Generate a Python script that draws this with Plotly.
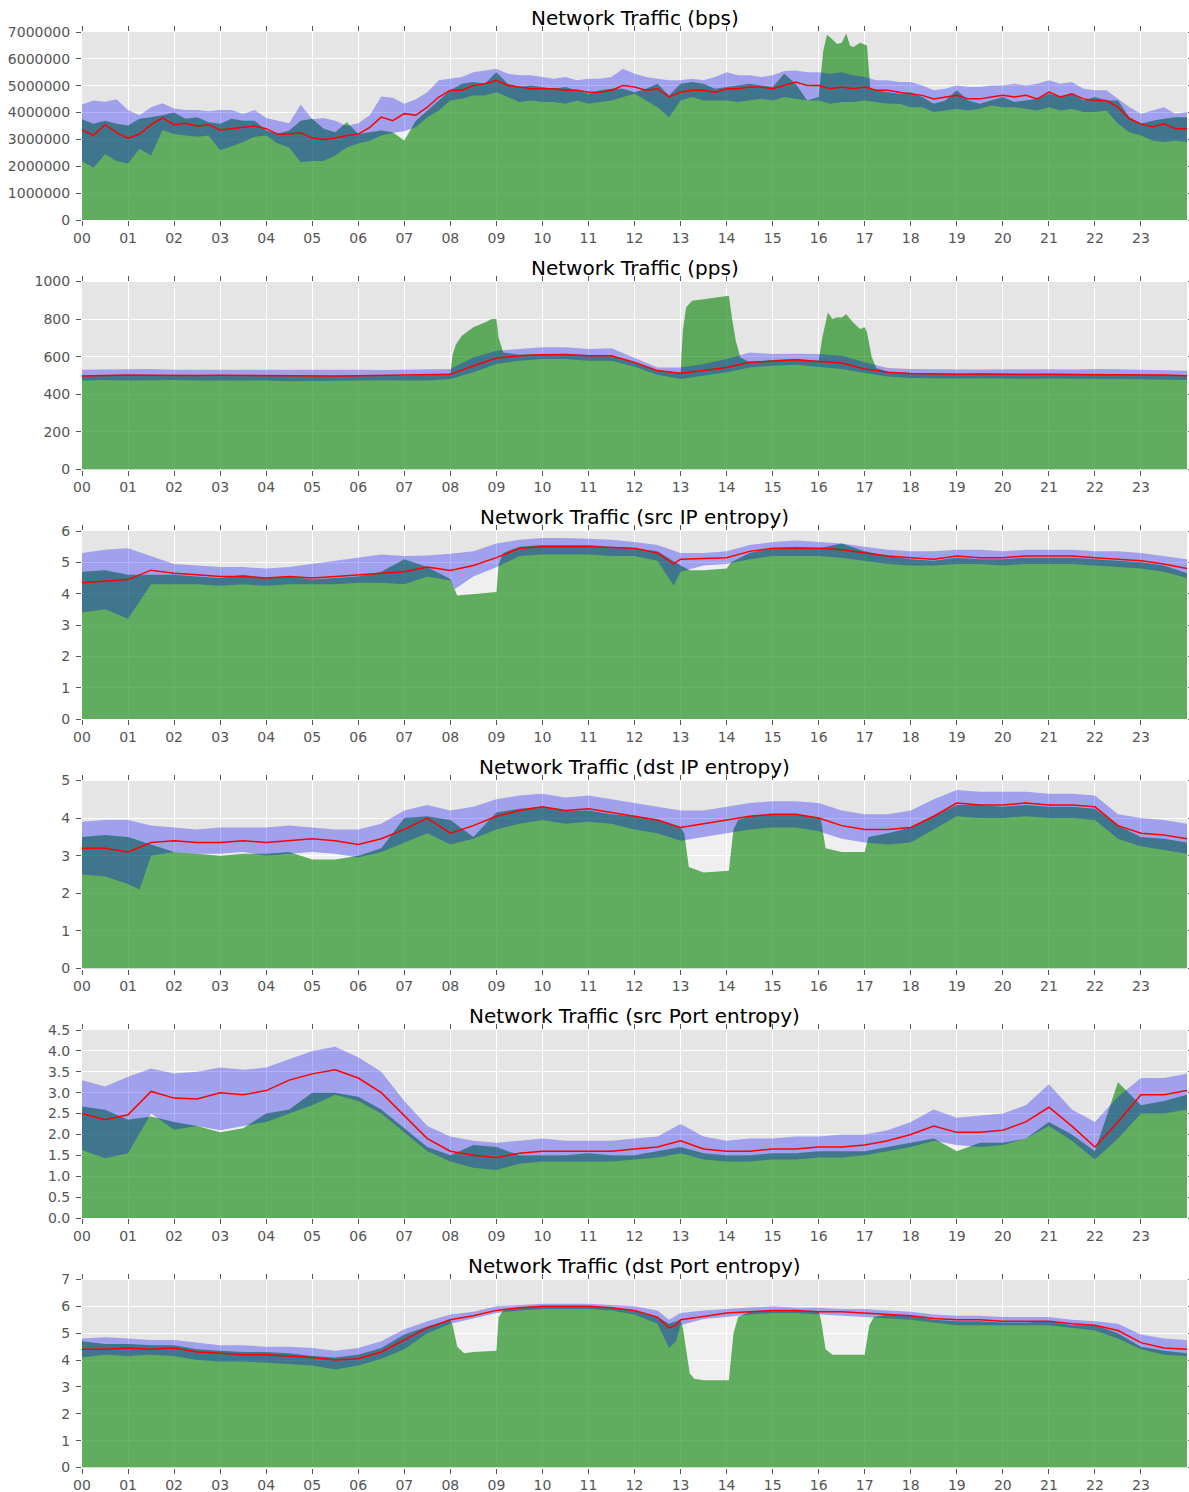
import plotly.graph_objects as go

# ---------------------------------------------------------------------------
# Time axis
# ---------------------------------------------------------------------------
HOUR_TICKS = list(range(24))
HOUR_LABELS = [f"{h:02d}" for h in HOUR_TICKS]
Q = [i * 0.25 for i in range(97)]   # 15-minute grid
H = [i * 0.5 for i in range(49)]    # 30-minute grid

# ---------------------------------------------------------------------------
# bps (values in Mbit/s, 15-minute grid)
# ---------------------------------------------------------------------------
bps_hi = [
    4.30, 4.45, 4.40, 4.50, 4.10, 3.90, 4.20, 4.35,
    4.15, 4.10, 4.10, 4.05, 4.10, 4.10, 3.95, 4.10,
    3.80, 3.70, 3.60, 4.30, 3.75, 3.80, 3.70, 3.50,
    3.60, 3.90, 4.60, 4.55, 4.33, 4.50, 4.76, 5.20,
    5.26, 5.32, 5.50, 5.57, 5.63, 5.45, 5.39, 5.39,
    5.32, 5.26, 5.32, 5.20, 5.26, 5.26, 5.32, 5.63,
    5.45, 5.32, 5.26, 5.20, 5.20, 5.26, 5.20, 5.32,
    5.50, 5.39, 5.39, 5.32, 5.39, 5.55, 5.57, 5.50,
    5.50, 5.45, 5.50, 5.39, 5.32, 5.20, 5.20, 5.14,
    5.14, 5.01, 4.83, 4.89, 5.01, 4.95, 4.95, 5.01,
    5.01, 5.07, 5.01, 5.07, 5.20, 5.07, 5.14, 4.89,
    4.83, 4.83, 4.51, 4.20, 3.96, 4.08, 4.20, 3.96,
    4.02,
]
bps_mean = [
    3.35, 3.15, 3.55, 3.25, 3.05, 3.20, 3.55, 3.80,
    3.55, 3.60, 3.50, 3.55, 3.35, 3.40, 3.45, 3.50,
    3.40, 3.20, 3.20, 3.25, 3.05, 3.00, 3.05, 3.15,
    3.20, 3.45, 3.83, 3.70, 3.96, 3.90, 4.20, 4.58,
    4.83, 4.83, 5.01, 5.07, 5.20, 5.01, 4.95, 4.89,
    4.89, 4.89, 4.83, 4.83, 4.76, 4.76, 4.83, 5.01,
    4.95, 4.83, 4.89, 4.58, 4.76, 4.83, 4.83, 4.76,
    4.89, 4.89, 4.95, 4.95, 4.89, 5.01, 5.14, 5.01,
    5.01, 4.89, 4.95, 4.89, 4.95, 4.83, 4.83, 4.76,
    4.70, 4.64, 4.51, 4.58, 4.64, 4.51, 4.51, 4.58,
    4.64, 4.58, 4.64, 4.51, 4.76, 4.58, 4.70, 4.51,
    4.45, 4.45, 4.20, 3.77, 3.58, 3.46, 3.58, 3.40,
    3.40,
]
bps_lo = [
    2.20, 1.95, 2.45, 2.20, 2.10, 2.65, 2.40, 3.35,
    3.20, 3.15, 3.10, 3.15, 2.60, 2.75, 2.90, 3.10,
    3.15, 2.85, 2.70, 2.15, 2.20, 2.20, 2.40, 2.70,
    2.85, 2.95, 3.15, 3.25, 3.30, 3.46, 3.83, 4.08,
    4.45, 4.51, 4.64, 4.64, 4.76, 4.58, 4.39, 4.45,
    4.39, 4.39, 4.33, 4.45, 4.33, 4.39, 4.45, 4.58,
    4.70, 4.45, 4.20, 3.83, 4.45, 4.58, 4.45, 4.45,
    4.45, 4.39, 4.45, 4.51, 4.45, 4.58, 4.51, 4.45,
    4.45, 4.33, 4.39, 4.39, 4.45, 4.39, 4.33, 4.33,
    4.20, 4.20, 4.02, 4.08, 4.14, 4.08, 4.14, 4.26,
    4.20, 4.20, 4.14, 4.08, 4.20, 4.08, 4.14, 4.02,
    4.02, 4.08, 3.58, 3.27, 3.15, 2.96, 2.90, 2.96,
    2.90,
]
bps_act = [
    3.75, 3.58, 3.70, 3.58, 3.52, 3.77, 3.83, 3.90,
    4.00, 3.77, 3.83, 3.64, 3.58, 3.77, 3.70, 3.70,
    3.33, 3.21, 3.33, 3.70, 3.77, 3.40, 3.27, 3.64,
    3.20, 3.27, 3.33, 3.27, 2.96, 3.70, 4.08, 4.45,
    4.83, 5.07, 5.14, 5.07, 5.50, 5.07, 4.95, 5.01,
    4.95, 4.89, 4.95, 4.83, 4.70, 4.83, 4.89, 4.89,
    4.76, 4.89, 5.07, 4.64, 5.07, 5.14, 5.07, 4.89,
    4.95, 5.01, 5.07, 5.01, 4.95, 5.45, 5.07, 4.45,
    4.58, 6.80, 6.60, 6.44, 6.55, 4.83, 4.76, 4.70,
    4.76, 4.58, 4.33, 4.45, 4.83, 4.45, 4.33, 4.45,
    4.58, 4.39, 4.45, 4.51, 4.70, 4.58, 4.70, 4.45,
    4.58, 4.45, 4.45, 3.83, 3.58, 3.70, 3.77, 3.83,
    3.83,
]
bps_act_extra = [(16.1, 6.3), (16.18, 6.9), (16.4, 6.55), (16.6, 6.94),
                 (16.68, 6.5), (16.9, 6.6), (17.05, 6.5), (17.12, 4.9)]

# ---------------------------------------------------------------------------
# pps (30-minute grid)
# ---------------------------------------------------------------------------
pps_hi = [
    530, 532, 533, 534, 530, 531, 530, 532,
    531, 530, 531, 532, 530, 529, 531, 532,
    535, 596, 632, 641, 650, 650, 641, 645,
    596, 543, 543, 561, 588, 623, 614, 616,
    614, 605, 570, 540, 535, 533, 533, 532,
    533, 531, 533, 532, 535, 533, 531, 528,
    525,
]
pps_mean = [
    497, 500, 502, 501, 499, 500, 501, 500,
    499, 501, 500, 498, 499, 501, 500, 502,
    506, 552, 593, 605, 611, 612, 605, 605,
    570, 526, 512, 526, 543, 570, 579, 584,
    575, 566, 535, 517, 510, 508, 507, 508,
    507, 506, 508, 507, 505, 506, 504, 502,
    499,
]
pps_lo = [
    474, 476, 473, 475, 476, 474, 475, 476,
    474, 470, 472, 473, 474, 475, 474, 473,
    481, 517, 561, 579, 588, 588, 579, 579,
    547, 504, 481, 498, 517, 543, 552, 557,
    545, 535, 513, 495, 487, 485, 484, 485,
    483, 482, 484, 485, 482, 481, 479, 478,
    476,
]
pps_act = [
    499, 503, 501, 502, 500, 503, 502, 501,
    500, 497, 500, 497, 501, 503, 499, 503,
    508, 756, 800, 610, 615, 614, 608, 608,
    572, 528, 515, 906, 924, 572, 582, 588,
    578, 809, 756, 520, 512, 510, 509, 510,
    508, 508, 510, 509, 507, 508, 505, 503,
    500,
]
pps_act_extra = [(8.05, 610), (8.12, 665), (8.25, 711), (8.75, 782), (8.9, 800),
                 (9.05, 700), (9.15, 623),
                 (13.05, 738), (13.12, 862), (13.25, 897), (13.75, 915),
                 (14.05, 924), (14.12, 800), (14.2, 685), (14.3, 596),
                 (16.08, 703), (16.2, 835), (16.3, 800), (16.4, 810), (16.6, 826),
                 (16.75, 782), (16.9, 747), (17.05, 730), (17.15, 600), (17.25, 540)]

# ---------------------------------------------------------------------------
# src IP entropy (30-minute grid)
# ---------------------------------------------------------------------------
sip_hi = [
    5.30, 5.40, 5.45, 5.20, 4.95, 4.90, 4.85, 4.85,
    4.80, 4.85, 4.95, 5.05, 5.15, 5.25, 5.20, 5.22,
    5.27, 5.35, 5.60, 5.72, 5.78, 5.78, 5.75, 5.72,
    5.65, 5.55, 5.30, 5.30, 5.35, 5.55, 5.65, 5.70,
    5.65, 5.60, 5.50, 5.40, 5.35, 5.35, 5.40, 5.40,
    5.35, 5.40, 5.40, 5.40, 5.35, 5.35, 5.30, 5.20,
    5.10,
]
sip_mean = [
    4.35, 4.40, 4.45, 4.75, 4.65, 4.60, 4.55, 4.55,
    4.50, 4.55, 4.50, 4.55, 4.60, 4.65, 4.70, 4.85,
    4.74, 4.90, 5.15, 5.45, 5.50, 5.50, 5.50, 5.47,
    5.45, 5.30, 5.10, 5.12, 5.15, 5.35, 5.45, 5.45,
    5.45, 5.40, 5.30, 5.20, 5.15, 5.10, 5.20, 5.15,
    5.15, 5.20, 5.20, 5.20, 5.15, 5.10, 5.05, 4.95,
    4.80,
]
sip_lo = [
    3.40, 3.50, 3.20, 4.30, 4.30, 4.30, 4.25, 4.30,
    4.25, 4.30, 4.30, 4.30, 4.35, 4.35, 4.30, 4.55,
    4.42, 4.55, 4.84, 5.20, 5.25, 5.25, 5.25, 5.20,
    5.20, 5.05, 4.70, 4.90, 4.95, 5.10, 5.20, 5.20,
    5.20, 5.15, 5.05, 4.95, 4.90, 4.90, 4.95, 4.95,
    4.90, 4.95, 4.95, 4.95, 4.90, 4.85, 4.80, 4.70,
    4.50,
]
sip_act = [
    4.70, 4.75, 4.60, 4.60, 4.60, 4.55, 4.50, 4.60,
    4.50, 4.55, 4.45, 4.50, 4.55, 4.70, 5.10, 4.85,
    4.47, 3.99, 4.05, 5.50, 5.55, 5.55, 5.55, 5.50,
    5.45, 5.35, 4.90, 4.75, 4.80, 5.30, 5.45, 5.50,
    5.45, 5.60, 5.35, 5.20, 5.10, 5.05, 5.15, 5.10,
    5.10, 5.15, 5.15, 5.15, 5.10, 5.05, 5.00, 4.90,
    4.65,
]
sip_act_extra = [(8.15, 3.94), (8.97, 4.05), (9.05, 4.95), (9.15, 5.3),
                 (13.2, 4.75), (14.1, 5.0)]
sip_lo_extra = [(8.1, 4.15), (12.85, 4.25)]
sip_mean_extra = [(12.85, 4.95)]

# ---------------------------------------------------------------------------
# dst IP entropy (30-minute grid)
# ---------------------------------------------------------------------------
dip_hi = [
    3.90, 3.95, 3.95, 3.80, 3.75, 3.70, 3.75, 3.75,
    3.75, 3.80, 3.75, 3.70, 3.70, 3.85, 4.20, 4.35,
    4.20, 4.30, 4.50, 4.60, 4.65, 4.55, 4.60, 4.50,
    4.40, 4.30, 4.20, 4.20, 4.30, 4.40, 4.45, 4.45,
    4.40, 4.20, 4.10, 4.10, 4.20, 4.50, 4.75, 4.70,
    4.70, 4.70, 4.65, 4.65, 4.60, 4.10, 4.00, 3.95,
    3.85,
]
dip_mean = [
    3.20, 3.20, 3.10, 3.35, 3.40, 3.35, 3.35, 3.40,
    3.35, 3.40, 3.45, 3.40, 3.30, 3.45, 3.70, 4.00,
    3.60, 3.80, 4.05, 4.20, 4.30, 4.20, 4.25, 4.15,
    4.05, 3.95, 3.75, 3.85, 3.95, 4.05, 4.10, 4.10,
    4.00, 3.80, 3.70, 3.70, 3.75, 4.05, 4.40, 4.35,
    4.35, 4.40, 4.35, 4.35, 4.30, 3.80, 3.60, 3.55,
    3.45,
]
dip_lo = [
    2.50, 2.45, 2.25, 3.00, 3.10, 3.05, 3.05, 3.10,
    3.00, 3.05, 3.10, 3.05, 2.95, 3.10, 3.35, 3.60,
    3.30, 3.45, 3.70, 3.85, 3.95, 3.85, 3.90, 3.85,
    3.70, 3.60, 3.40, 3.50, 3.60, 3.70, 3.75, 3.75,
    3.65, 3.45, 3.35, 3.30, 3.35, 3.70, 4.05, 4.00,
    4.00, 4.05, 4.00, 4.00, 3.95, 3.45, 3.25, 3.15,
    3.05,
]
dip_act = [
    3.50, 3.55, 3.50, 3.30, 3.10, 3.05, 3.00, 3.05,
    3.05, 3.10, 2.90, 2.90, 3.00, 3.20, 4.00, 4.05,
    3.95, 3.50, 4.15, 4.25, 4.30, 4.20, 4.20, 4.10,
    4.05, 3.95, 3.75, 2.55, 2.60, 4.05, 4.10, 4.10,
    4.00, 3.10, 3.10, 3.60, 3.75, 4.05, 4.35, 4.35,
    4.30, 4.35, 4.30, 4.30, 4.25, 3.80, 3.50, 3.45,
    3.35,
]
dip_act_extra = [(13.08, 3.6), (13.18, 2.7), (14.05, 2.6), (14.15, 3.7), (14.25, 3.95),
                 (16.05, 3.95), (16.15, 3.2), (17.08, 3.5)]
dip_lo_extra = [(1.25, 2.1)]

# ---------------------------------------------------------------------------
# src Port entropy (30-minute grid)
# ---------------------------------------------------------------------------
spt_hi = [
    3.30, 3.15, 3.38, 3.58, 3.46, 3.50, 3.60, 3.55,
    3.60, 3.80, 4.00, 4.10, 3.85, 3.50, 2.80, 2.20,
    1.95, 1.85, 1.80, 1.85, 1.90, 1.85, 1.85, 1.85,
    1.90, 1.95, 2.25, 1.95, 1.85, 1.90, 1.90, 1.95,
    1.95, 2.00, 2.00, 2.10, 2.30, 2.60, 2.40, 2.45,
    2.50, 2.70, 3.20, 2.60, 2.30, 2.90, 3.35, 3.35,
    3.45,
]
spt_mean = [
    2.50, 2.35, 2.47, 3.03, 2.87, 2.85, 3.00, 2.95,
    3.05, 3.30, 3.45, 3.55, 3.35, 3.00, 2.45, 1.90,
    1.60, 1.50, 1.45, 1.55, 1.60, 1.60, 1.60, 1.60,
    1.65, 1.70, 1.85, 1.65, 1.60, 1.60, 1.65, 1.65,
    1.70, 1.70, 1.75, 1.85, 2.00, 2.20, 2.05, 2.05,
    2.10, 2.30, 2.65, 2.20, 1.70, 2.30, 2.95, 2.95,
    3.05,
]
spt_lo = [
    1.63, 1.43, 1.55, 2.50, 2.11, 2.20, 2.10, 2.20,
    2.30, 2.50, 2.70, 2.95, 2.80, 2.50, 2.05, 1.60,
    1.35, 1.20, 1.15, 1.30, 1.35, 1.35, 1.35, 1.35,
    1.40, 1.45, 1.55, 1.40, 1.35, 1.35, 1.40, 1.40,
    1.45, 1.45, 1.50, 1.60, 1.70, 1.85, 1.75, 1.70,
    1.75, 1.90, 2.20, 1.85, 1.40, 1.90, 2.50, 2.50,
    2.60,
]
spt_act = [
    2.67, 2.59, 2.35, 2.43, 2.30, 2.20, 2.05, 2.15,
    2.50, 2.60, 3.00, 3.00, 2.90, 2.60, 2.15, 1.70,
    1.50, 1.75, 1.70, 1.50, 1.50, 1.50, 1.55, 1.50,
    1.50, 1.60, 1.70, 1.55, 1.50, 1.50, 1.55, 1.55,
    1.60, 1.60, 1.60, 1.70, 1.80, 1.90, 1.60, 1.80,
    1.80, 1.90, 2.30, 2.00, 1.60, 3.25, 2.70, 2.80,
    2.95,
]

# ---------------------------------------------------------------------------
# dst Port entropy (30-minute grid)
# ---------------------------------------------------------------------------
dpt_hi = [
    4.80, 4.85, 4.80, 4.75, 4.75, 4.65, 4.55, 4.55,
    4.50, 4.50, 4.45, 4.35, 4.45, 4.70, 5.15, 5.45,
    5.70, 5.80, 6.00, 6.05, 6.10, 6.10, 6.10, 6.05,
    6.00, 5.85, 5.75, 5.85, 5.90, 5.95, 6.00, 5.95,
    5.95, 5.90, 5.90, 5.85, 5.80, 5.70, 5.65, 5.65,
    5.60, 5.60, 5.60, 5.50, 5.45, 5.35, 4.95, 4.80,
    4.75,
]
dpt_mean = [
    4.40, 4.40, 4.45, 4.40, 4.45, 4.30, 4.25, 4.20,
    4.20, 4.15, 4.10, 4.00, 4.05, 4.30, 4.75, 5.20,
    5.50, 5.65, 5.85, 5.95, 6.00, 6.00, 6.00, 5.95,
    5.85, 5.60, 5.50, 5.62, 5.75, 5.80, 5.85, 5.85,
    5.80, 5.80, 5.75, 5.70, 5.65, 5.55, 5.50, 5.50,
    5.45, 5.45, 5.45, 5.35, 5.30, 5.10, 4.65, 4.45,
    4.40,
]
dpt_lo = [
    4.10, 4.20, 4.15, 4.20, 4.15, 4.00, 3.95, 3.95,
    3.90, 3.85, 3.80, 3.65, 3.80, 4.05, 4.40, 5.00,
    5.35, 5.55, 5.75, 5.85, 5.90, 5.90, 5.90, 5.85,
    5.70, 5.35, 5.30, 5.53, 5.60, 5.70, 5.75, 5.75,
    5.70, 5.65, 5.60, 5.55, 5.50, 5.40, 5.30, 5.30,
    5.30, 5.30, 5.30, 5.20, 5.10, 4.80, 4.40, 4.20,
    4.15,
]
dpt_act = [
    4.70, 4.60, 4.60, 4.55, 4.55, 4.40, 4.35, 4.30,
    4.30, 4.25, 4.15, 4.10, 4.20, 4.45, 4.95, 5.25,
    5.50, 4.30, 4.35, 5.95, 6.00, 6.00, 6.00, 5.95,
    5.85, 5.60, 5.50, 3.25, 3.25, 5.80, 5.85, 5.85,
    5.80, 4.20, 4.20, 5.70, 5.65, 5.50, 5.45, 5.45,
    5.40, 5.40, 5.45, 5.30, 5.30, 5.00, 4.50, 4.35,
    4.25,
]
dpt_act_extra = [(8.05, 5.3), (8.15, 4.5), (8.3, 4.25), (8.95, 4.35), (9.05, 5.6),
                 (9.15, 5.85), (12.75, 5.35), (13.05, 5.2), (13.2, 3.5), (13.3, 3.3),
                 (14.05, 3.25), (14.15, 5.0), (14.25, 5.6), (16.05, 5.5), (16.15, 4.4),
                 (16.3, 4.2), (17.1, 5.3), (17.2, 5.6)]
dpt_mean_extra = [(12.75, 5.2), (12.9, 5.3)]
dpt_lo_extra = [(12.75, 4.45), (12.9, 4.7)]
dpt_hi_extra = [(12.75, 5.5)]

# ---------------------------------------------------------------------------
# Panel definitions
# ---------------------------------------------------------------------------
PANELS = [
    dict(title="Network Traffic (bps)", grid=Q, scale=1e6,
         hi=bps_hi, mean=bps_mean, lo=bps_lo, act=bps_act, act_extra=bps_act_extra,
         yrange=[0, 7e6], dtick=1e6, fmt="d"),
    dict(title="Network Traffic (pps)", grid=H, scale=1,
         hi=pps_hi, mean=pps_mean, lo=pps_lo, act=pps_act, act_extra=pps_act_extra,
         yrange=[0, 1000], dtick=200, fmt="d"),
    dict(title="Network Traffic (src IP entropy)", grid=H, scale=1,
         hi=sip_hi, mean=sip_mean, lo=sip_lo, act=sip_act, act_extra=sip_act_extra,
         lo_extra=sip_lo_extra, mean_extra=sip_mean_extra,
         yrange=[0, 6], dtick=1, fmt="d"),
    dict(title="Network Traffic (dst IP entropy)", grid=H, scale=1,
         hi=dip_hi, mean=dip_mean, lo=dip_lo, act=dip_act, act_extra=dip_act_extra,
         lo_extra=dip_lo_extra,
         yrange=[0, 5], dtick=1, fmt="d"),
    dict(title="Network Traffic (src Port entropy)", grid=H, scale=1,
         hi=spt_hi, mean=spt_mean, lo=spt_lo, act=spt_act,
         yrange=[0, 4.5], dtick=0.5, fmt=".1f"),
    dict(title="Network Traffic (dst Port entropy)", grid=H, scale=1,
         hi=dpt_hi, mean=dpt_mean, lo=dpt_lo, act=dpt_act, act_extra=dpt_act_extra,
         lo_extra=dpt_lo_extra, mean_extra=dpt_mean_extra, hi_extra=dpt_hi_extra,
         yrange=[0, 7], dtick=1, fmt="d"),
]

# Styling
FONT = "DejaVu Sans"
TICK_COLOR = "#555555"
BG = "#E5E5E5"
GREEN = "rgba(0,128,0,0.6)"
BLUE = "rgba(0,0,255,0.3)"
PALE = "rgba(255,255,255,0.4)"
RED = "#FF0000"

W, HGT = 1189, 1492
M_L, M_R, M_T, M_B = 82, 2, 32, 24
PLOT_H = HGT - M_T - M_B
PITCH, PANEL_H = 249.5, 188.0


def merged(grid, values, extra=(), scale=1.0):
    pts = {round(t, 4): v for t, v in zip(grid, values)}
    for t, v in extra:
        pts[round(t, 4)] = v
    ts = sorted(pts)
    return ts, [pts[t] * scale for t in ts]


fig = go.Figure()
annotations = []
layout_axes = {}

for k, p in enumerate(PANELS):
    n = k + 1
    xa = "x" if n == 1 else f"x{n}"
    ya = "y" if n == 1 else f"y{n}"
    sc = p["scale"]

    t_lo, v_lo = merged(p["grid"], p["lo"], p.get("lo_extra", ()), sc)
    t_hi, v_hi = merged(p["grid"], p["hi"], p.get("hi_extra", ()), sc)
    t_mn, v_mn = merged(p["grid"], p["mean"], p.get("mean_extra", ()), sc)
    t_ac, v_ac = merged(p["grid"], p["act"], p.get("act_extra", ()), sc)

    common = dict(mode="lines", xaxis=xa, yaxis=ya, hoverinfo="skip", showlegend=False)
    # pale area under the lower bound (visible where traffic falls below it)
    fig.add_trace(go.Scatter(x=t_lo, y=v_lo, fill="tozeroy", fillcolor=PALE,
                             line=dict(width=0), **common))
    # observed traffic
    fig.add_trace(go.Scatter(x=t_ac, y=v_ac, fill="tozeroy", fillcolor=GREEN,
                             line=dict(width=0), **common))
    # expected band
    fig.add_trace(go.Scatter(x=t_lo, y=v_lo, line=dict(width=0), **common))
    fig.add_trace(go.Scatter(x=t_hi, y=v_hi, fill="tonexty", fillcolor=BLUE,
                             line=dict(width=0), **common))
    # expected mean
    fig.add_trace(go.Scatter(x=t_mn, y=v_mn, line=dict(color=RED, width=1.5), **common))

    top_px = PITCH * k
    d_top = 1 - top_px / PLOT_H
    d_bot = max(0.0, 1 - (top_px + PANEL_H) / PLOT_H)

    axis_common = dict(
        showgrid=True, gridcolor="white", gridwidth=1,
        zeroline=False, ticks="outside", ticklen=5, tickwidth=1,
        tickcolor=TICK_COLOR, showline=True, linecolor="white", linewidth=1,
        mirror="ticks", automargin=False,
        tickfont=dict(family=FONT, size=14, color=TICK_COLOR),
    )
    layout_axes["xaxis" if n == 1 else f"xaxis{n}"] = dict(
        domain=[0, 1], anchor=ya, range=[0, 24],
        tickmode="array", tickvals=HOUR_TICKS, ticktext=HOUR_LABELS,
        ticklabelstandoff=0, **axis_common)
    layout_axes["yaxis" if n == 1 else f"yaxis{n}"] = dict(
        domain=[d_bot, d_top], anchor=xa, range=p["yrange"],
        tickmode="linear", tick0=0, dtick=p["dtick"], tickformat=p["fmt"],
        ticklabelstandoff=3, **axis_common)

    annotations.append(dict(
        text=p["title"], xref="paper", yref="paper", x=0.5, y=d_top,
        xanchor="center", yanchor="middle", yshift=14, showarrow=False,
        font=dict(family=FONT, size=20, color="#000000")))

fig.update_layout(
    width=W, height=HGT,
    margin=dict(l=M_L, r=M_R, t=M_T, b=M_B, autoexpand=False),
    paper_bgcolor="white", plot_bgcolor=BG,
    annotations=annotations,
    showlegend=False,
    **layout_axes,
)

fig.write_html("out.html")
